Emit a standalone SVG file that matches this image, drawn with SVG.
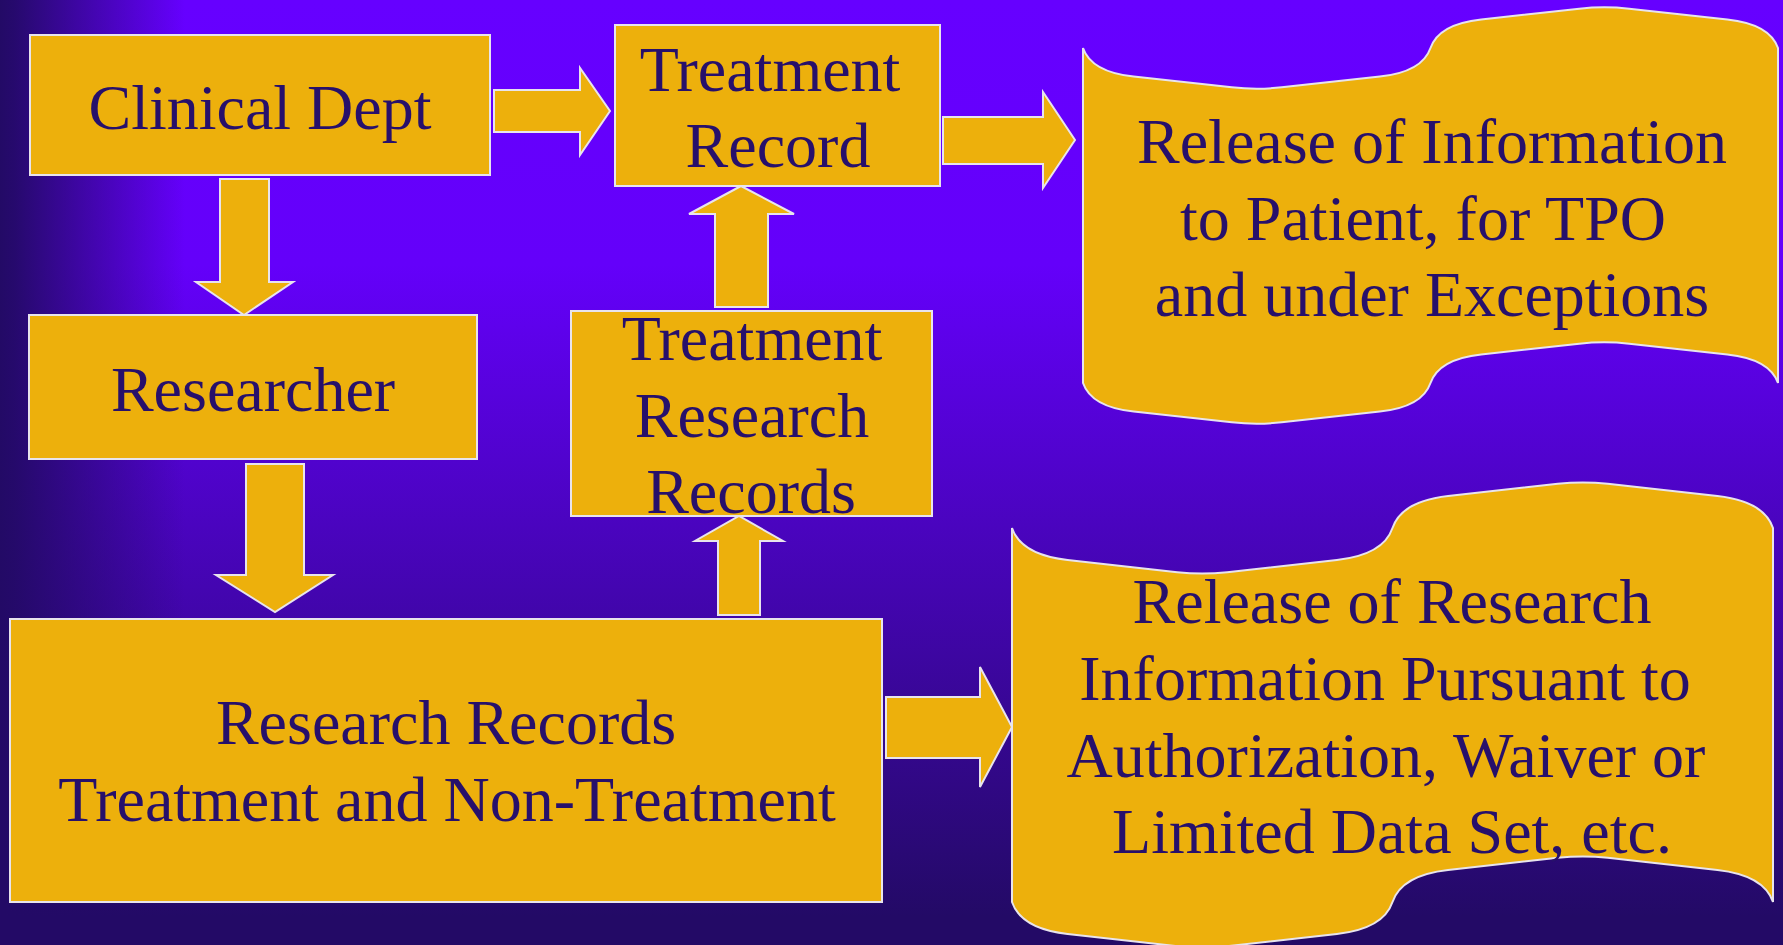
<svg xmlns="http://www.w3.org/2000/svg" width="1783" height="945" viewBox="0 0 1783 945">
<defs>
<linearGradient id="bgV" gradientUnits="userSpaceOnUse" x1="0" y1="0" x2="0" y2="945">
<stop offset="0" stop-color="#6600FF"/>
<stop offset="0.28" stop-color="#6400FA"/>
<stop offset="0.97" stop-color="#230A66"/>
</linearGradient>
<linearGradient id="bgH" gradientUnits="userSpaceOnUse" x1="0" y1="0" x2="185" y2="0">
<stop offset="0" stop-color="#230A66" stop-opacity="1"/>
<stop offset="0.08" stop-color="#230A66" stop-opacity="0.95"/>
<stop offset="1" stop-color="#230A66" stop-opacity="0"/>
</linearGradient>
<style>
.shape{fill:#EDB00C;stroke:#E8E4EC;stroke-width:2;stroke-linejoin:miter}
.lbl{font-family:"Liberation Serif","Times New Roman",serif;font-size:64px;fill:#27106B;text-anchor:middle}
</style>
</defs>
<rect x="0" y="0" width="1783" height="945" fill="url(#bgV)"/>
<rect x="0" y="0" width="185" height="945" fill="url(#bgH)"/>

<g id="connectors">
<polygon class="shape" points="494,90 580,90 580,68 610,111 580,155 580,132 494,132"/>
<polygon class="shape" points="220,179 269,179 269,282 293,282 244,315 196,282 220,282"/>
<polygon class="shape" points="246,464 304,464 304,575 333,575 275,612 216,575 246,575"/>
<polygon class="shape" points="718,615 718,541 695,541 739,516 783,541 760,541 760,615"/>
<polygon class="shape" points="715,307 715,214 689,214 741,186 794,214 768,214 768,307"/>
<polygon class="shape" points="943,117 1043,117 1043,92 1075,140 1043,188 1043,164 943,164"/>
<polygon class="shape" points="886,697 980,697 980,667 1012,727 980,787 980,758 886,758"/>
</g>

<g id="clinical-dept">
<rect class="shape" x="30" y="35" width="460" height="140"/>
<text class="lbl" x="260" y="129">Clinical Dept</text>
</g>

<g id="treatment-record">
<rect class="shape" x="615" y="25" width="325" height="161"/>
<text class="lbl" x="770" y="91">Treatment</text>
<text class="lbl" x="778" y="167">Record</text>
</g>

<g id="researcher">
<rect class="shape" x="29" y="315" width="448" height="144"/>
<text class="lbl" x="253" y="411">Researcher</text>
</g>

<g id="treatment-research-records">
<rect class="shape" x="571" y="311" width="361" height="205"/>
<text class="lbl" x="752" y="360">Treatment</text>
<text class="lbl" x="752" y="437">Research</text>
<text class="lbl" x="751" y="513">Records</text>
</g>

<g id="research-records">
<rect class="shape" x="10" y="619" width="872" height="283"/>
<text class="lbl" x="446" y="744">Research Records</text>
<text class="lbl" x="447" y="821">Treatment and Non-Treatment</text>
</g>

<g id="release-info">
<path class="shape" d="M1083,48 Q1091.3,72 1133.7,76.6 L1231.75,87.3 Q1256.75,90 1281.75,87.3 L1379.8,76.6 Q1422.2,72 1430.5,48 Q1438.8,24 1481.2,19.4 L1579.25,8.7 Q1604.25,6 1629.25,8.7 L1727.3,19.4 Q1769.7,24 1778,48 L1778,383 Q1769.7,359 1727.3,354.4 L1629.25,343.7 Q1604.25,341 1579.25,343.7 L1481.2,354.4 Q1438.8,359 1430.5,383 Q1422.2,407 1379.8,411.6 L1281.75,422.3 Q1256.75,425 1231.75,422.3 L1133.7,411.6 Q1091.3,407 1083,383 Z"/>
<text class="lbl" x="1432" y="163">Release of Information</text>
<text class="lbl" x="1423" y="240">to Patient, for TPO</text>
<text class="lbl" x="1432" y="316">and under Exceptions</text>
</g>

<g id="release-research">
<path class="shape" d="M1012,528 Q1021.1,554.8 1067.6,560 L1177.25,572.2 Q1202.25,575 1227.25,572.2 L1336.9,560 Q1383.4,554.8 1392.5,528 Q1401.6,501.2 1448.1,496 L1557.75,483.8 Q1582.75,481 1607.75,483.8 L1717.4,496 Q1763.9,501.2 1773,528 L1773,902 Q1763.9,875.2 1717.4,870 L1607.75,857.8 Q1582.75,855 1557.75,857.8 L1448.1,870 Q1401.6,875.2 1392.5,902 Q1383.4,928.8 1336.9,934 L1227.25,946.2 Q1202.25,949 1177.25,946.2 L1067.6,934 Q1021.1,928.8 1012,902 Z"/>
<text class="lbl" x="1392" y="623">Release of Research</text>
<text class="lbl" x="1385" y="700">Information Pursuant to</text>
<text class="lbl" x="1386" y="777">Authorization, Waiver or</text>
<text class="lbl" x="1392" y="853">Limited Data Set, etc.</text>
</g>
</svg>
